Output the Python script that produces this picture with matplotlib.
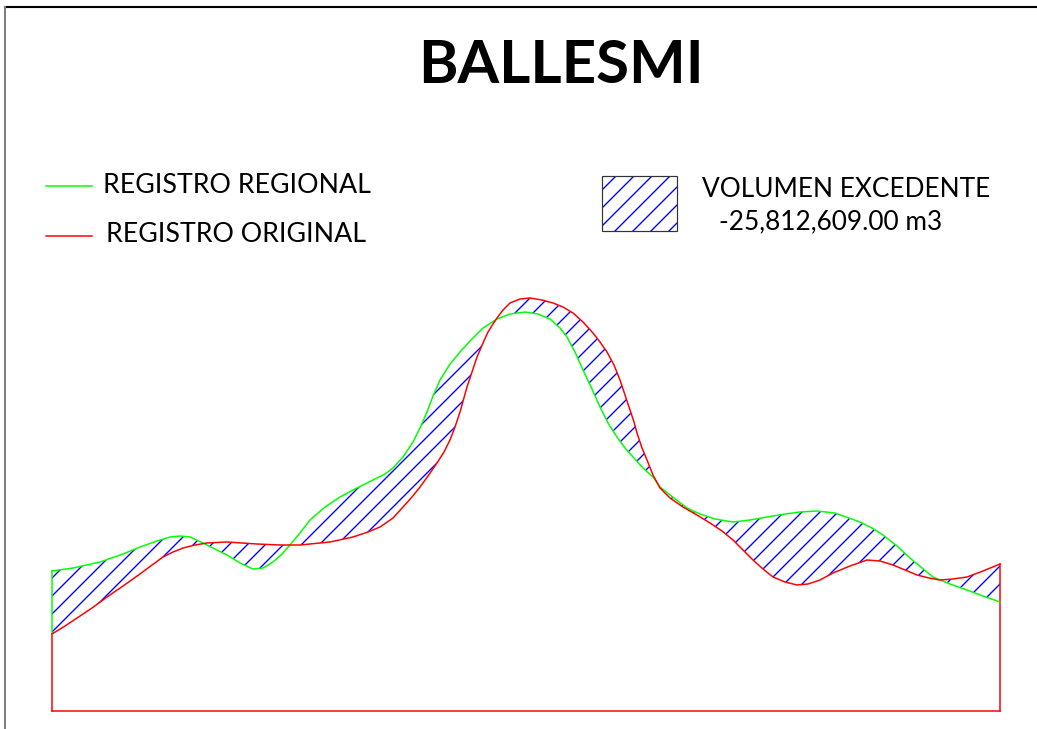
import matplotlib
matplotlib.use("Agg")
import matplotlib.pyplot as plt
from matplotlib.lines import Line2D
from matplotlib.patches import Rectangle

W, H, DPI = 1037, 729, 108

plt.rcParams["font.family"] = ["Lato", "DejaVu Sans"]
plt.rcParams["hatch.linewidth"] = 0.9

# ============================================================
# Datos del perfil (distancia y altura)
# ============================================================
dist_regional = [0, 21, 48, 71, 88, 105, 118, 128, 138, 151, 163, 175, 188, 201,
                 211, 221, 230, 238, 248, 258, 273, 288, 303, 321, 333, 341, 351,
                 361, 368, 375, 381, 388, 398, 408, 418, 431, 445, 458, 473, 486,
                 498, 508, 515, 523, 531, 540, 548, 556, 565, 573, 581, 591, 601,
                 608, 618, 635, 648, 663, 681, 698, 715, 733, 748, 765, 783, 808,
                 820, 831, 845, 858, 870, 881, 898, 915, 931, 948]
registro_regional = [140, 143, 149, 157, 164, 170, 174, 175, 174, 168, 162, 156, 148, 142,
                     143, 149, 157, 166, 178, 191, 204, 214, 222, 231, 237, 243, 254,
                     269, 283, 299, 315, 331, 347, 359, 370, 383, 392, 397, 399, 397,
                     392, 383, 374, 359, 341, 322, 304, 288, 274, 263, 254, 243, 234,
                     224, 216, 203, 197, 192, 189, 191, 194, 197, 199, 200, 198, 189,
                     183, 176, 165, 153, 143, 134, 127, 121, 115, 109]

dist_original = [0, 13, 25, 40, 55, 71, 88, 100, 111, 121, 131, 143, 155, 175, 205,
                 228, 248, 258, 278, 301, 316, 328, 341, 351, 360, 368, 376, 385,
                 392, 398, 403, 408, 415, 420, 425, 431, 436, 441, 445, 451, 458,
                 468, 478, 490, 501, 511, 521, 531, 541, 548, 555, 562, 568, 573,
                 578, 582, 585, 590, 595, 601, 608, 618, 631, 645, 658, 670, 681,
                 691, 701, 711, 721, 733, 745, 756, 768, 781, 798, 815, 828, 841,
                 853, 865, 877, 888, 901, 915, 931, 948]
registro_original = [77, 85, 93, 103, 114, 125, 137, 146, 154, 159, 163, 166, 168, 169, 167,
                     166, 166, 167, 169, 174, 179, 184, 193, 204, 214, 224, 235, 248,
                     259, 271, 284, 299, 324, 339, 354, 368, 379, 387, 393, 401, 408,
                     412, 413, 411, 408, 404, 398, 389, 378, 369, 359, 346, 331, 316,
                     301, 289, 278, 263, 251, 236, 223, 213, 204, 196, 188, 180, 171,
                     161, 151, 142, 134, 129, 126, 127, 131, 138, 145, 151, 150, 146,
                     141, 136, 133, 131, 132, 134, 140, 147]

titulo = "BALLESMI"
etiquetas = ["REGISTRO REGIONAL", "REGISTRO ORIGINAL"]
volumen_excedente = -25812609.00

VERDE = "#00ff00"
ROJO = "#ff0000"
AZUL = "#0000ff"


def fx(px):
    return px / W


def fy(py):
    return 1 - py / H


fig = plt.figure(figsize=(W / DPI, H / DPI), dpi=DPI)

# marco superior e izquierdo
fig.add_artist(Line2D([fx(5), 1], [fy(7), fy(7)], color="black", lw=1.4,
                      transform=fig.transFigure))
fig.add_artist(Line2D([fx(5), fx(5)], [fy(7), 0], color="#808080", lw=1.4,
                      transform=fig.transFigure))

# ============================================================
# Perfil
# ============================================================
ax = fig.add_axes([fx(52), 18 / H, 948 / W, 703 / H])
ax.set_xlim(0, 948)
ax.set_ylim(0, 703)
ax.axis("off")

# volumen excedente (área entre ambos registros)
poly_x = dist_regional + dist_original[::-1]
poly_y = registro_regional + registro_original[::-1]
ax.fill(poly_x, poly_y, facecolor="none", edgecolor=AZUL, hatch="//", linewidth=0, zorder=1)

ax.plot(dist_regional, registro_regional, color=VERDE, lw=1.0, zorder=3, clip_on=False)
ax.plot(dist_original, registro_original, color=ROJO, lw=1.0, zorder=3, clip_on=False)

# bordes del perfil
ax.plot([dist_original[0], dist_original[-1]], [0, 0], color=ROJO, lw=1.0, clip_on=False)
ax.plot([dist_original[0]] * 2, [0, registro_original[0]], color=ROJO, lw=1.0, clip_on=False)
ax.plot([dist_regional[0]] * 2, [registro_original[0], registro_regional[0]],
        color=VERDE, lw=1.0, clip_on=False)
ax.plot([dist_original[-1]] * 2, [0, registro_original[-1]], color=ROJO, lw=1.0, clip_on=False)

# ============================================================
# Título y leyendas
# ============================================================
fig.text(fx(561), fy(83), titulo, ha="center", va="baseline",
         fontsize=40, fontweight="bold")

for (color, texto, y_linea, x_txt, y_txt) in [
        (VERDE, etiquetas[0], 186, 103, 193),
        (ROJO, etiquetas[1], 236, 106, 242)]:
    fig.add_artist(Line2D([fx(46), fx(92)], [fy(y_linea)] * 2, color=color, lw=1.0,
                          transform=fig.transFigure))
    fig.text(fx(x_txt), fy(y_txt), texto, ha="left", va="baseline", fontsize=17.8)

fig.add_artist(Rectangle((fx(602), fy(231)), 75 / W, 55 / H, facecolor="none",
                         edgecolor=AZUL, hatch="//", lw=0, transform=fig.transFigure))
fig.add_artist(Rectangle((fx(602), fy(231)), 75 / W, 55 / H, facecolor="none",
                         edgecolor="#333333", lw=0.8, transform=fig.transFigure))
fig.text(fx(702), fy(197), "VOLUMEN EXCEDENTE", ha="left", va="baseline", fontsize=17.5)
fig.text(fx(719), fy(229), f"{volumen_excedente:,.2f} m3", ha="left", va="baseline",
         fontsize=17.5)

fig.savefig("out.png", dpi=DPI)
